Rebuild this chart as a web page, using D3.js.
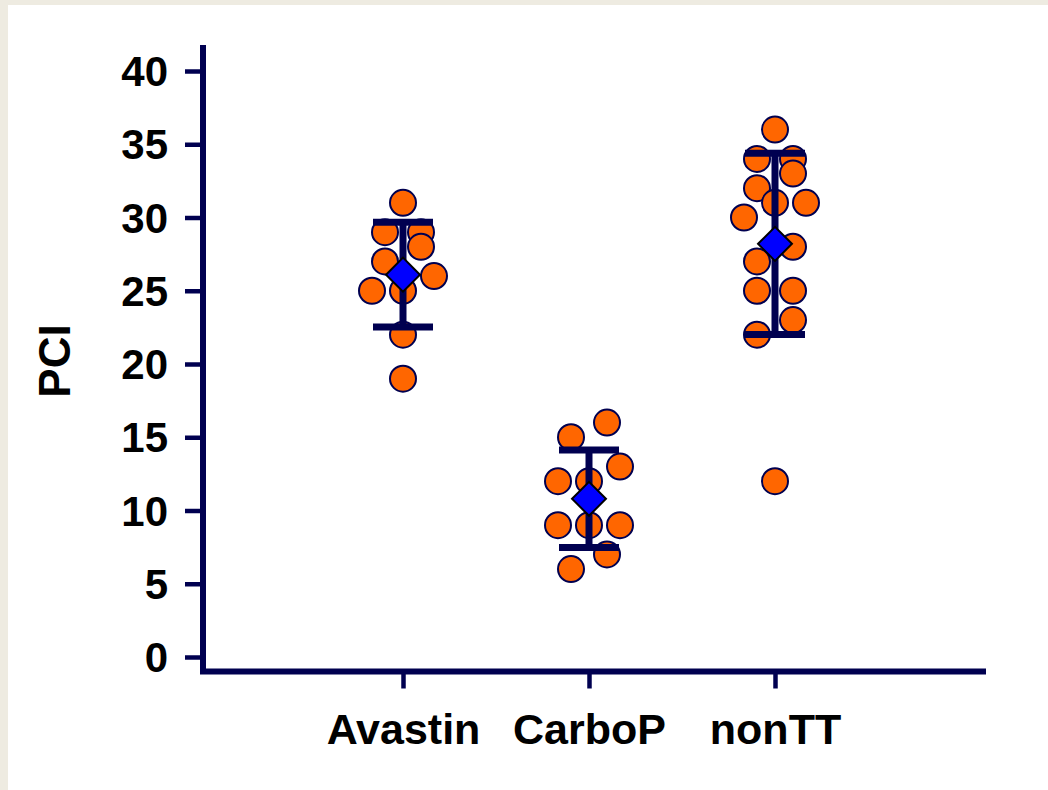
<!DOCTYPE html>
<html>
<head>
<meta charset="utf-8">
<script src="https://cdn.jsdelivr.net/npm/d3@7"></script>
<style>
  html, body { margin: 0; padding: 0; background: #fff; }
  svg { display: block; }
</style>
</head>
<body>
<script>
// PCI scores per treatment group
const groups = ["Avastin", "CarboP", "nonTT"];
const avastinPCI = [31, 29, 29, 28, 27, 26, 25, 25, 22, 19];
const carboPPCI = [16, 15, 13, 12, 12, 9, 9, 9, 7, 6];
const nonTTPCI = [36, 34, 34, 33, 32, 31, 31, 30, 28, 27, 25, 25, 23, 22, 12];
const yTicks = [0, 5, 10, 15, 20, 25, 30, 35, 40];
const yLabel = "PCI";

const series = [avastinPCI, carboPPCI, nonTTPCI];

const W = 1048, H = 790;
const navy = "#000050";
const orange = "#FF6600";
const font = "'Liberation Sans', Arial, Helvetica, sans-serif";

const svg = d3.select("body").append("svg")
  .attr("width", W).attr("height", H);

// slide-style frame
svg.append("rect").attr("width", W).attr("height", H).attr("fill", "#EEEBE1");
svg.append("rect").attr("x", 8).attr("y", 5)
  .attr("width", W - 8).attr("height", H - 5).attr("fill", "#fff");

const x = d3.scalePoint().domain(groups).range([217, 961]).padding(1);
const y = d3.scaleLinear().domain([0, 40]).range([657, 71]);

// y axis ticks and labels
const yAxis = svg.append("g").attr("transform", "translate(203,0)")
  .call(d3.axisLeft(y).tickValues(yTicks).tickSize(18).tickPadding(17)
    .tickFormat(d3.format("d")));
yAxis.select(".domain").remove();
yAxis.selectAll(".tick line").attr("stroke", navy).attr("stroke-width", 4.5);
yAxis.selectAll(".tick text")
  .attr("font-family", font).attr("font-size", 42).attr("font-weight", "bold")
  .attr("fill", "#000").attr("dy", "0.35em");

// x axis ticks and category labels
const xAxis = svg.append("g").attr("transform", "translate(0,671.5)")
  .call(d3.axisBottom(x).tickSize(17));
xAxis.select(".domain").remove();
xAxis.selectAll(".tick line").attr("stroke", navy).attr("stroke-width", 4.5);
xAxis.selectAll(".tick text")
  .attr("font-family", font).attr("font-size", 43).attr("font-weight", "bold")
  .attr("fill", "#000").attr("y", 72.5).attr("dy", 0);

// axis frame lines
svg.append("path")
  .attr("d", "M203,45V671.5H986")
  .attr("fill", "none").attr("stroke", navy).attr("stroke-width", 6)
  .attr("stroke-linejoin", "miter");

// y axis title
svg.append("text")
  .attr("transform", "translate(70,361) rotate(-90)")
  .attr("text-anchor", "middle")
  .attr("font-family", font).attr("font-size", 44).attr("font-weight", "bold")
  .attr("fill", "#000")
  .text(yLabel);

// horizontal spreading: points within one symbol height share a row
const r = 13;
function dodge(values) {
  const sorted = values.map((v, i) => ({ v, i })).sort((a, b) => a.v - b.v);
  const rows = [];
  sorted.forEach(p => {
    const row = rows[rows.length - 1];
    if (row && y(row[0].v) - y(p.v) < 2 * r + 2) row.push(p);
    else rows.push([p]);
  });
  const dx = new Array(values.length).fill(0);
  rows.forEach(row => {
    const n = row.length, gap = n === 2 ? 36 : 31;
    row.forEach((p, k) => { dx[p.i] = (k - (n - 1) / 2) * gap; });
  });
  return dx;
}

const plot = svg.append("g");

series.forEach((vals, gi) => {
  const cx = x(groups[gi]);
  const dx = dodge(vals);
  const g = plot.append("g");

  g.selectAll("circle").data(vals).join("circle")
    .attr("cx", (d, i) => cx + dx[i])
    .attr("cy", d => y(d))
    .attr("r", r)
    .attr("fill", orange)
    .attr("stroke", navy)
    .attr("stroke-width", 2);

  // mean ± SD bar
  const mean = d3.mean(vals);
  const sd = d3.deviation(vals);
  const yHi = y(mean + sd), yLo = y(mean - sd);

  g.append("line")
    .attr("x1", cx).attr("x2", cx).attr("y1", yHi).attr("y2", yLo)
    .attr("stroke", navy).attr("stroke-width", 7);
  [yHi, yLo].forEach(yy => {
    g.append("line")
      .attr("x1", cx - 30).attr("x2", cx + 30).attr("y1", yy).attr("y2", yy)
      .attr("stroke", navy).attr("stroke-width", 7);
  });

  // mean marker
  g.append("path")
    .attr("d", d3.symbol().type(d3.symbolSquare).size(576)())
    .attr("transform", `translate(${cx},${y(mean)}) rotate(45)`)
    .attr("fill", "#0000FF")
    .attr("stroke", "#000")
    .attr("stroke-width", 2);
});
</script>
</body>
</html>
